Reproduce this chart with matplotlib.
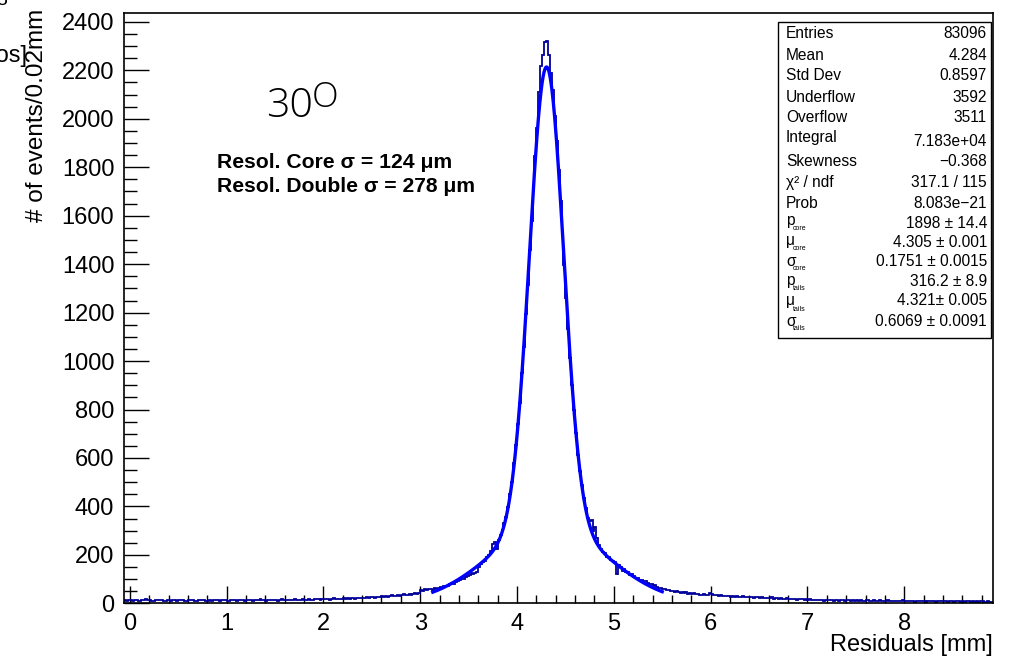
import numpy as np
import matplotlib
matplotlib.use("Agg")
import matplotlib.pyplot as plt
from matplotlib.ticker import MultipleLocator
from matplotlib.patches import Rectangle

# residual histogram, 0.02 mm bins starting at -0.06 mm
bin_lo = -0.06
bin_width = 0.02

counts_left = [
    13, 11, 14, 12, 10, 15, 13, 11, 9, 12, 14, 16, 13, 12, 10, 11, 14, 13, 15, 12, 10, 9, 12, 13, 11,
    14, 12, 10, 13, 15, 12, 11, 9, 13, 14, 12, 10, 11, 15, 13, 12, 14, 10, 11, 13, 9, 12, 14, 13, 11,
    12, 14, 13, 11, 10, 13, 15, 12, 11, 14, 13, 12, 10, 12, 15, 14, 11, 13, 12, 14, 16, 13, 12, 11, 14,
    13, 15, 12, 14, 11, 13, 16, 14, 12, 15, 13, 14, 12, 16, 15, 13, 14, 17, 15, 13, 16, 14, 15, 17, 16,
    17, 15, 18, 16, 19, 17, 15, 18, 20, 17, 19, 18, 16, 20, 19, 21, 18, 20, 22, 19, 21, 20, 23, 21, 22,
    24, 22, 25, 27, 23, 26, 28, 25, 30, 27, 29, 26, 31, 33, 29, 32, 35, 31, 34, 37, 33, 36, 39, 35, 40,
    42, 38, 44,
]
counts_core = [
    55, 52, 58, 54, 60, 57, 56, 62, 60, 64, 66, 63, 70, 73, 71, 78, 83, 80, 88, 93, 96, 101, 99, 108,
    114, 118, 124, 119, 126, 131, 150, 162,
    170, 176, 192, 198, 214, 246, 252, 226, 262, 280, 304, 330, 356, 398, 452, 500, 578, 652,
    742, 828, 950, 1058, 1196, 1312, 1460, 1580, 1724, 1846, 1962, 2110, 2220, 2262, 2318, 2322, 2264,
    2190, 2118, 2012, 1908, 1790, 1660, 1530, 1396, 1262, 1134, 1012, 900, 796, 704, 612, 548, 490, 436,
    392, 352, 338, 342, 300, 316, 268, 240, 226, 212, 206, 190, 192, 178, 176,
    170, 122, 158, 150, 132, 140, 128, 130, 118, 122, 112, 104, 106, 96, 98, 90, 94, 84, 78, 80, 70,
    74, 66, 62, 64, 58, 60, 54, 56, 50,
]
counts_right = [
    52, 48, 50, 46, 44, 47, 42, 45, 40, 43, 38, 41, 37, 40, 36, 34, 38, 33, 35, 42,
    40, 36, 33, 35, 31, 34, 30, 32, 29, 31, 28, 30, 27, 29, 26, 28, 30, 25, 27, 24, 26, 28, 23, 25, 24,
    22, 24, 21, 23, 20, 22, 24, 19, 21, 20, 18, 22, 19, 17, 20, 18, 16, 19, 17, 15, 18, 16, 17, 15, 16,
    14, 16, 13, 15, 14, 12, 15, 13, 11, 14, 12, 13, 15, 11, 12, 14, 10, 13, 12, 11, 14, 12, 10, 13, 11,
    12, 10, 13, 11, 9, 12, 14, 10, 11, 13, 9, 10, 12, 11, 8, 10, 12, 9, 11, 10, 8, 11, 9, 10, 12,
    9, 10, 8, 11, 9, 7, 10, 8, 9, 11, 8, 7, 9, 10, 8, 9, 7, 10, 8, 9, 11, 8, 7, 9, 8,
    7, 9, 8, 10, 7, 8, 6, 9, 8, 7, 9, 6, 8, 7, 9, 8, 6, 7, 8, 7, 6,
]

# double gaussian fit (parameters from the stats box)
fit_names = ["p_core", "mu_core", "sigma_core", "p_tails", "mu_tails", "sigma_tails"]
fit_values = [1898, 4.305, 0.1751, 316.2, 4.321, 0.6069]
fit_range = (3.13, 5.50)

stat_labels = ["Entries", "Mean", "Std Dev", "Underflow", "Overflow", "Integral",
               "Skewness", "\u03c7\u00b2 / ndf", "Prob"]
stat_values = ["83096", "4.284", "0.8597", "3592", "3511", "7.183e+04",
               "\u22120.368", "317.1 / 115", "8.083e\u221221"]
par_symbols = ["p", "\u03bc", "\u03c3", "p", "\u03bc", "\u03c3"]
par_subs = ["core", "core", "core", "tails", "tails", "tails"]
par_values = ["1898 \u00b1 14.4", "4.305 \u00b1 0.001", "0.1751 \u00b1 0.0015",
              "316.2 \u00b1 8.9", "4.321\u00b1 0.005", "0.6069 \u00b1 0.0091"]

angle_text = "30"
resol_lines = ["Resol. Core \u03c3 = 124 \u03bcm", "Resol. Double \u03c3 = 278 \u03bcm"]

W, H = 1011, 658
FONT = "Liberation Sans"
plt.rcParams["font.family"] = [FONT, "DejaVu Sans"]


def fx(px):
    return px / W


def fy(py):
    return 1 - py / H


counts = np.array(counts_left + counts_core + counts_right, dtype=float)
edges = bin_lo + bin_width * np.arange(len(counts) + 1)

fig = plt.figure(figsize=(W / 100, H / 100), dpi=100)
ax = fig.add_axes([fx(124), fy(603.3), fx(993.3) - fx(124), fy(12.7) - fy(603.3)])

ax.stairs(counts, edges, color="#000099", linewidth=1.3, zorder=2)

p = dict(zip(fit_names, fit_values))
xf = np.linspace(fit_range[0], fit_range[1], 500)
yf = (p["p_core"] * np.exp(-0.5 * ((xf - p["mu_core"]) / p["sigma_core"]) ** 2)
      + p["p_tails"] * np.exp(-0.5 * ((xf - p["mu_tails"]) / p["sigma_tails"]) ** 2))
ax.plot(xf, yf, color="#0000ff", linewidth=2.4, zorder=3)

ax.set_xlim(edges[0], edges[-1])
ax.set_ylim(0, 1.05 * counts.max())
ax.xaxis.set_major_locator(MultipleLocator(1))
ax.xaxis.set_minor_locator(MultipleLocator(0.2))
ax.yaxis.set_major_locator(MultipleLocator(200))
ax.yaxis.set_minor_locator(MultipleLocator(50))
ax.tick_params(which="both", direction="in", top=False, right=False, width=1.0,
               labelsize=17, colors="black")
ax.tick_params(axis="x", which="major", length=12, pad=7)
ax.tick_params(axis="x", which="minor", length=6)
ax.tick_params(axis="y", which="major", length=18, pad=7)
ax.tick_params(axis="y", which="minor", length=9)
for s in ax.spines.values():
    s.set_linewidth(1.2)

# axis titles, ROOT style (right / top aligned)
fig.text(fx(993), fy(651), "Residuals [mm]", ha="right", va="baseline", fontsize=17)
fig.text(fx(37), fy(9), "# of events/0.02mm", ha="center", va="top", rotation=90, fontsize=17.5)

# leftover text bits in the top-left corner
fig.text(fx(27), fy(56), "Pos]", ha="right", va="center", fontsize=17)
fig.text(fx(2), fy(5), "8", ha="center", va="baseline", fontsize=14)

# angle label
fig.text(fx(266), fy(117), angle_text, ha="left", va="baseline", fontsize=29.5,
         family=["Open Sans", FONT], fontweight="light")
fig.text(fx(312), fy(107), "O", ha="left", va="baseline", fontsize=25,
         family=["Open Sans", FONT], fontweight="light")

for i, line in enumerate(resol_lines):
    fig.text(fx(217), fy(168 + 24 * i), line, ha="left", va="baseline",
             fontsize=15.2, fontweight="bold")

# stats box
box = Rectangle((fx(778.3), fy(338.3)), fx(991) - fx(778.3), fy(21.7) - fy(338.3),
                transform=fig.transFigure, facecolor="white", edgecolor="black",
                linewidth=1.0, zorder=5)
fig.patches.append(box)

stat_y = [33, 55, 76, 97, 118, 137.5, 161, 182, 203]
stat_vy = [33, 55, 76, 97, 118, 141, 161, 182, 203]
for lab, val, y, vy in zip(stat_labels, stat_values, stat_y, stat_vy):
    fig.text(fx(786), fy(y), lab, ha="left", va="center", fontsize=11.2, zorder=6)
    fig.text(fx(987), fy(vy), val, ha="right", va="center", fontsize=11.2, zorder=6)

par_y = [221, 241, 261, 281, 301, 321]
par_vy = [223, 243, 261, 282, 301, 321]
for sym, sub, val, y, vy in zip(par_symbols, par_subs, par_values, par_y, par_vy):
    fig.text(fx(786), fy(y), sym, ha="left", va="center", fontsize=11.2, zorder=6)
    fig.text(fx(793), fy(y + 8), sub, ha="left", va="center", fontsize=5, zorder=6)
    fig.text(fx(987), fy(vy), val, ha="right", va="center", fontsize=11.2, zorder=6)

fig.savefig("out.png", dpi=100)
